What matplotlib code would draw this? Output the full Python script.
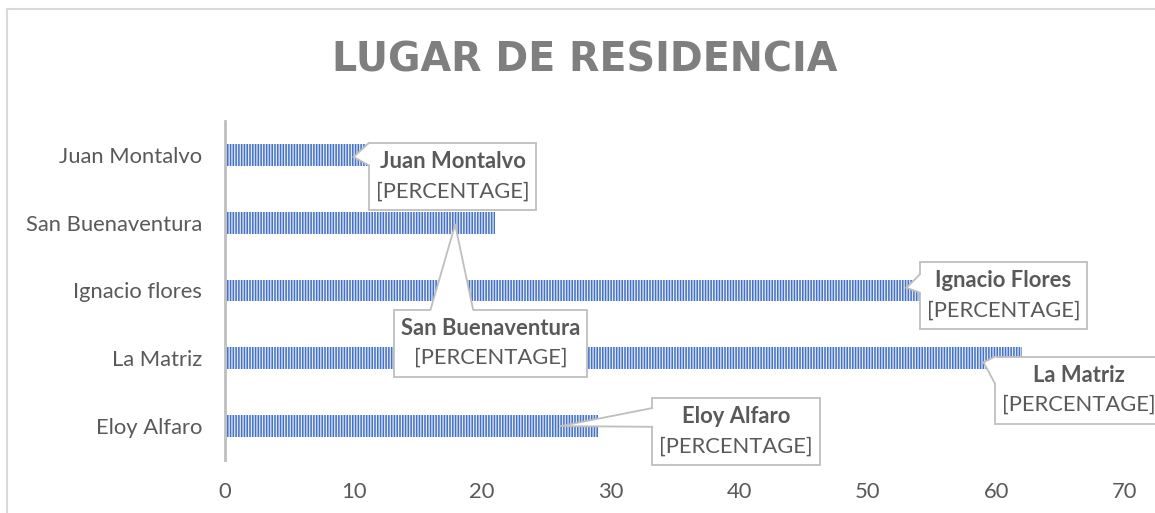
import matplotlib.pyplot as plt
from matplotlib.patches import Rectangle, Polygon
from matplotlib.lines import Line2D
from matplotlib.transforms import IdentityTransform

categories = ['Eloy Alfaro', 'La Matriz', 'Ignacio flores', 'San Buenaventura', 'Juan Montalvo']
values = [29, 62, 55, 21, 11.5]
label_names = ['Eloy Alfaro', 'La Matriz', 'Ignacio Flores', 'San Buenaventura', 'Juan Montalvo']
label_value = '[PERCENTAGE]'
xticks = [0, 10, 20, 30, 40, 50, 60, 70]
title = 'LUGAR DE RESIDENCIA'

# callout layout: box centre and pointer tip (data units), side the pointer leaves from,
# and which part of that side (fraction from top / from left) the pointer base spans
callouts = [
    dict(center=(39.75, -0.08), tip=(26.1, 0.0), side='left', span=(0.15, 0.43)),
    dict(center=(66.4, 0.53), tip=(59.0, 0.94), side='left', span=(0.0, 0.4)),
    dict(center=(60.55, 1.92), tip=(53.0, 2.04), side='left', span=(0.18, 0.45)),
    dict(center=(20.65, 1.225), tip=(17.9, 2.97), side='top', span=(0.19, 0.41)),
    dict(center=(17.7, 3.68), tip=(10.0, 3.97), side='left', span=(0.0, 0.33)),
]

plt.rcParams['font.family'] = ['Lato', 'DejaVu Sans']
plt.rcParams['hatch.linewidth'] = 0.9

blue = '#4472C4'
stripe = '#E4EAF7'
grey_txt = '#595959'
grey_line = '#BFBFBF'
fs = 15.8

fig = plt.figure(figsize=(11.55, 5.13), dpi=100)
ax = fig.add_axes([225 / 1155, 53 / 513, 900 / 1155, 339 / 513])

ypos = list(range(len(categories)))
ax.barh(ypos, values, height=0.32, color=blue, edgecolor=stripe,
        hatch='||||||', linewidth=0, zorder=2)

ax.set_xlim(0, 70)
ax.set_ylim(-0.5, 4.5)
ax.set_xticks(xticks)
ax.set_yticks(ypos)
ax.set_yticklabels(categories)
ax.tick_params(axis='both', length=0, labelsize=fs, colors=grey_txt)
ax.tick_params(axis='x', pad=16)
ax.tick_params(axis='y', pad=16.5)
for s in ['top', 'right', 'bottom']:
    ax.spines[s].set_visible(False)
ax.spines['left'].set_color(grey_line)
ax.spines['left'].set_linewidth(2)

fig.text(585 / 1155, 1 - 61 / 513, title, ha='center', va='center',
         fontsize=28.5, fontweight='bold', color='#7F7F7F', family=['DejaVu Sans'])

# outer chart frame (only left and top edges visible in the crop)
fig.add_artist(Line2D([7 / 1155, 7 / 1155], [0, 1 - 9 / 513], color='#D9D9D9', lw=1.5))
fig.add_artist(Line2D([7 / 1155, 1], [1 - 9 / 513, 1 - 9 / 513], color='#D9D9D9', lw=1.5))

# callouts
fig.canvas.draw()
r = fig.canvas.get_renderer()
idt = IdentityTransform()
for name, c in zip(label_names, callouts):
    cx, cy = ax.transData.transform(c['center'])
    tx, ty = ax.transData.transform(c['tip'])
    t1 = ax.text(cx, cy + 15, name, transform=idt, ha='center', va='center',
                 fontsize=fs, fontweight='bold', color=grey_txt, zorder=7, clip_on=False)
    t2 = ax.text(cx, cy - 15, label_value, transform=idt, ha='center', va='center',
                 fontsize=fs, color=grey_txt, zorder=7, clip_on=False)
    w = max(t1.get_window_extent(r).width, t2.get_window_extent(r).width) + 14
    h = 67
    x0, y0 = cx - w / 2, cy - h / 2
    x1, y1 = x0 + w, y0 + h
    ax.add_patch(Rectangle((x0, y0), w, h, transform=idt, facecolor='white',
                           edgecolor=grey_line, lw=1.3, zorder=5, clip_on=False))
    f0, f1 = c['span']
    if c['side'] == 'left':
        p0 = (x0, y1 - f0 * h)
        p1 = (x0, y1 - f1 * h)
        q0 = (x0 + 2, p0[1] - (1.5 if f0 == 0 else 0))
        q1 = (x0 + 2, p1[1])
    else:
        p0 = (x0 + f0 * w, y1)
        p1 = (x0 + f1 * w, y1)
        q0 = (p0[0], y1 - 2)
        q1 = (p1[0], y1 - 2)
    ax.add_patch(Polygon([q0, p0, (tx, ty), p1, q1], closed=True, transform=idt,
                         facecolor='white', edgecolor='none', zorder=6, clip_on=False))
    for p in (p0, p1):
        ax.add_line(Line2D([p[0], tx], [p[1], ty], transform=idt, color=grey_line,
                           lw=1.3, zorder=6, clip_on=False))

fig.savefig('out.png', dpi=100)
